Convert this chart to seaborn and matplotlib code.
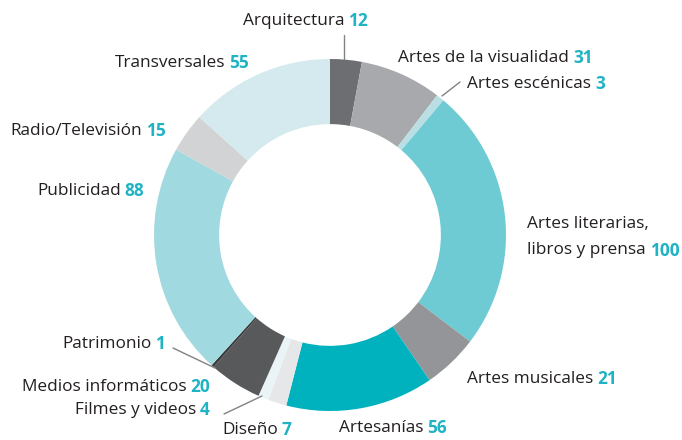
import matplotlib
matplotlib.use("Agg")
import matplotlib.pyplot as plt
import seaborn as sns

# categories clockwise from 12 o'clock
categorias = ["Arquitectura", "Artes de la visualidad", "Artes escénicas",
              "Artes literarias,\nlibros y prensa", "Artes musicales", "Artesanías",
              "Diseño", "Filmes y videos", "Medios informáticos", "Patrimonio",
              "Publicidad", "Radio/Televisión", "Transversales"]
valores = [12, 31, 3, 100, 21, 56, 7, 4, 20, 1, 88, 15, 55]
colores = ["#6d6e71", "#a7a9ac", "#b9dfe4", "#6ecbd3", "#939598", "#00b2be",
           "#e6e7e8", "#eaf4f7", "#58595b", "#3a3a3c", "#a1d9e0", "#d1d3d4", "#d5eaee"]

# label anchor (left x, centre y) in pixels from top-left
pos_etiquetas = [(243, 21), (398, 58), (467, 84), (527, 237), (467, 379), (339, 428),
                 (222, 430), (75, 410), (22, 387), (62, 344), (37, 191), (10, 131), (115, 63)]
# leader lines in pixels
lineas = [((344, 35), (344, 59)), ((460, 82), (442, 96)),
          ((224, 414), (262, 396)), ((173, 348), (215, 368))]

sns.set_theme(style="white")
plt.rcParams['font.family'] = ['Open Sans', 'DejaVu Sans']

W, H = 682, 440
fig = plt.figure(figsize=(W / 100, H / 100), dpi=100)
ax = fig.add_axes([0, 0, 1, 1])
ax.set_xlim(0, W)
ax.set_ylim(0, H)
ax.set_aspect('equal')
ax.axis('off')

cx, cy, r = 330, H - 235, 176
ax.pie(valores, colors=colores, startangle=90, counterclock=False,
       center=(cx, cy), radius=r, wedgeprops=dict(width=r * 0.37, linewidth=0))
ax.set_xlim(0, W)
ax.set_ylim(0, H)

for (p0, p1) in lineas:
    ax.plot([p0[0], p1[0]], [H - p0[1], H - p1[1]], color="#808285", lw=1)

renderer = fig.canvas.get_renderer()
for cat, val, (x, y) in zip(categorias, valores, pos_etiquetas):
    lines = cat.split("\n")
    n = len(lines)
    for i, ln in enumerate(lines):
        yy = H - (y - (n - 1) * 13.5 + i * 27)
        t = ax.text(x, yy, ln, ha='left', va='center', fontsize=12.4, color="#231f20")
        if i == n - 1:
            bb = t.get_window_extent(renderer)
            ax.text(bb.x1 + 4, yy, str(val), ha='left', va='center', fontsize=12.4,
                    fontweight='bold', color="#1fb3c3")

fig.savefig("out.png", dpi=100)
